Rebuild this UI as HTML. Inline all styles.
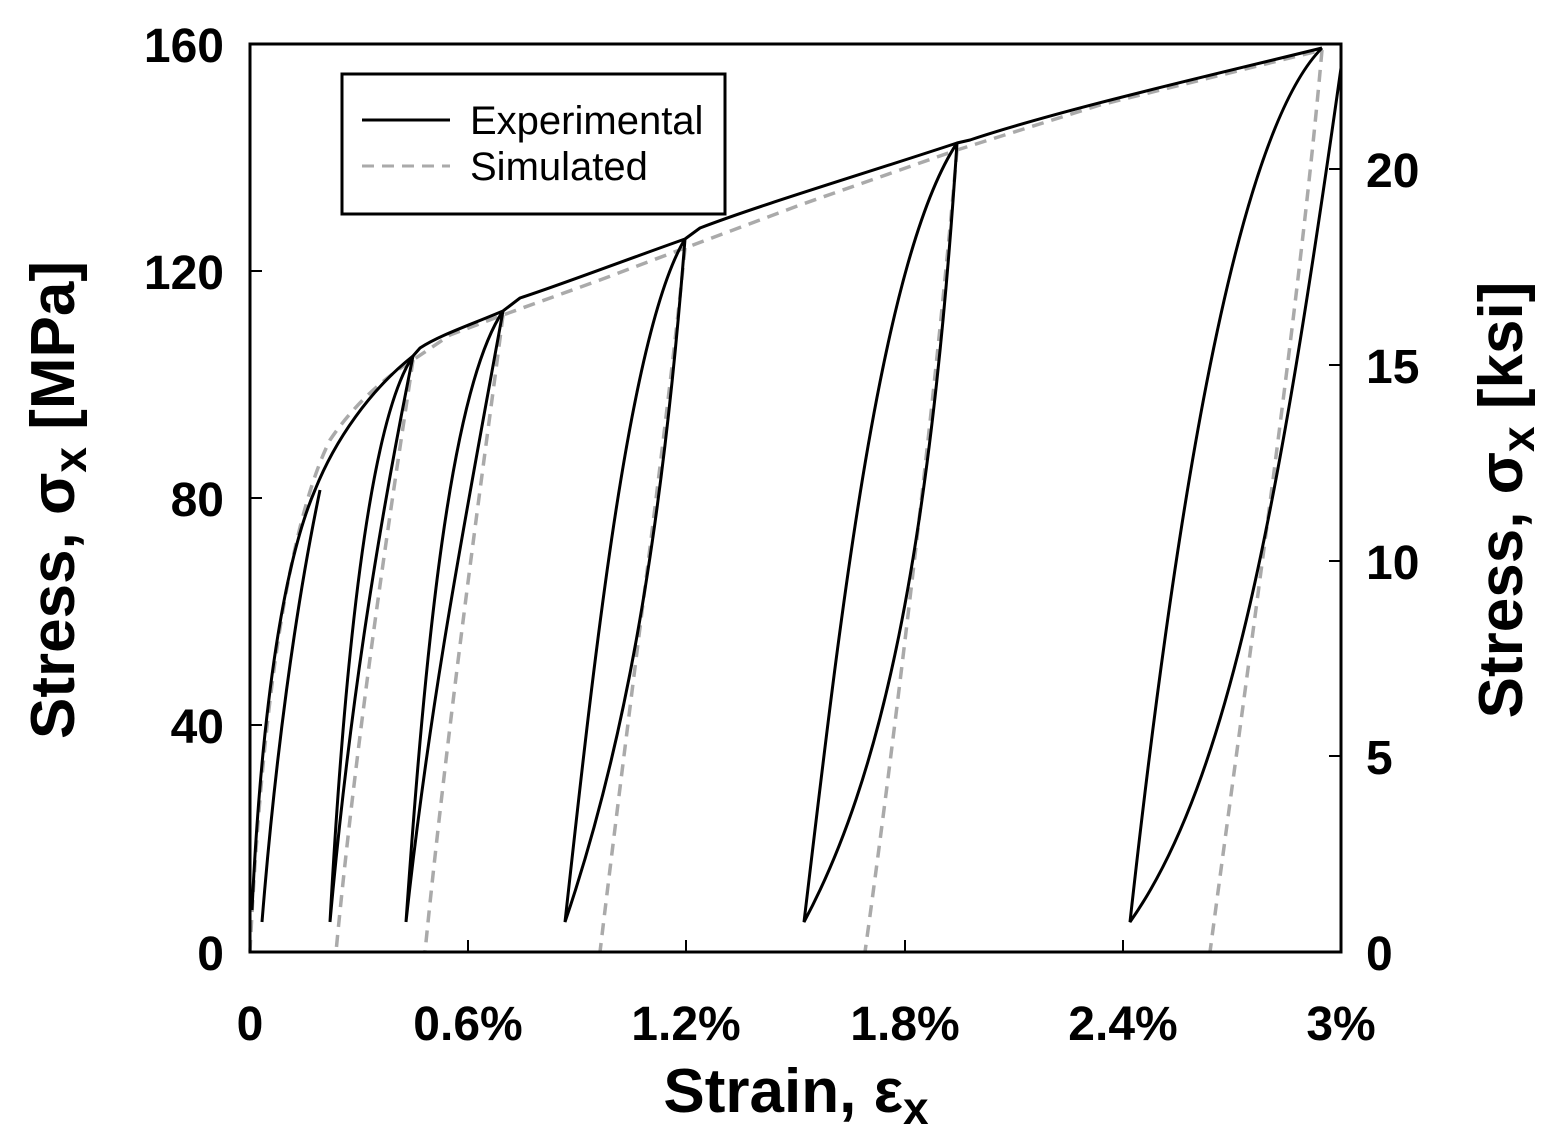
<!DOCTYPE html>
<html><head><meta charset="utf-8"><style>
html,body{margin:0;padding:0;background:#fff;}
svg{display:block;font-family:"Liberation Sans",Arial,sans-serif;font-weight:bold;}
</style></head><body>
<svg width="1548" height="1146" viewBox="0 0 1548 1146" xmlns="http://www.w3.org/2000/svg">
<rect width="1548" height="1146" fill="#fff"/>
<!-- simulated dashed -->
<g fill="none" stroke="#aaa" stroke-width="3.5" stroke-dasharray="12,8">
<path d="M250,952 C262,700 290,520 330,440 C350,410 380,380 413,360 L450,335 L503,315 L600,280 L685,248 L800,205 L957,150 L1100,105 L1322,50"/>
<path d="M413,360 C400,450 360,700 336,952"/>
<path d="M503,315 C490,420 450,700 425,952"/>
<path d="M685,248 C670,400 630,700 600,952"/>
<path d="M957,150 C940,350 900,700 865,952"/>
<path d="M1322,50 C1300,300 1250,650 1210,952"/>
</g>
<!-- experimental -->
<g fill="none" stroke="#000" stroke-width="3">
<path d="M252,910 C262,700 285,560 315,490 C335,440 370,390 413,356 L420,348 C440,335 470,325 503,311 L520,298 C560,285 620,262 685,239 L700,228 C760,205 860,175 957,143 L970,140 C1060,110 1200,78 1322,48"/>
<path d="M262,922 C275,760 295,610 320,490"/>
<path d="M413,356 C370,420 345,650 330,922 C350,700 380,520 413,356"/>
<path d="M503,311 C450,390 425,650 406,922 C430,700 465,520 503,311"/>
<path d="M685,239 C630,330 595,650 565,922 C620,760 660,560 685,239"/>
<path d="M957,143 C880,260 840,620 804,922 C880,780 930,560 957,143"/>
<path d="M1322,48 C1230,140 1170,560 1130,922 C1230,780 1280,500 1341,68"/>
</g>
<!-- axes -->
<rect x="250" y="44" width="1091" height="908" fill="none" stroke="#000" stroke-width="3"/>
<g stroke="#000" stroke-width="2">
<line x1="250" y1="271" x2="262" y2="271"/><line x1="250" y1="498" x2="262" y2="498"/><line x1="250" y1="725" x2="262" y2="725"/>
<line x1="468" y1="952" x2="468" y2="940"/><line x1="686" y1="952" x2="686" y2="940"/><line x1="905" y1="952" x2="905" y2="940"/><line x1="1123" y1="952" x2="1123" y2="940"/>
<line x1="1341" y1="169" x2="1329" y2="169"/><line x1="1341" y1="365" x2="1329" y2="365"/><line x1="1341" y1="561" x2="1329" y2="561"/><line x1="1341" y1="756" x2="1329" y2="756"/>
</g>
<g font-size="48" text-anchor="end">
<text x="224" y="62">160</text><text x="224" y="289">120</text><text x="224" y="516">80</text><text x="224" y="743">40</text><text x="224" y="970">0</text>
</g>
<g font-size="48" text-anchor="start">
<text x="1366" y="187">20</text><text x="1366" y="383">15</text><text x="1366" y="579">10</text><text x="1366" y="774">5</text><text x="1366" y="970">0</text>
</g>
<g font-size="48" text-anchor="middle">
<text x="250" y="1040">0</text><text x="468" y="1040">0.6%</text><text x="686" y="1040">1.2%</text><text x="905" y="1040">1.8%</text><text x="1123" y="1040">2.4%</text><text x="1341" y="1040">3%</text>
</g>
<text x="796" y="1112" font-size="62" text-anchor="middle">Strain, ε<tspan font-size="46" dy="12">x</tspan></text>
<text transform="translate(74,500) rotate(-90)" font-size="62" text-anchor="middle">Stress, σ<tspan font-size="46" dy="12">x</tspan><tspan dy="-12"> [MPa]</tspan></text>
<text transform="translate(1522,500) rotate(-90)" font-size="62" text-anchor="middle">Stress, σ<tspan font-size="46" dy="12">x</tspan><tspan dy="-12"> [ksi]</tspan></text>
<!-- legend -->
<rect x="342" y="74" width="383" height="140" fill="#fff" stroke="#000" stroke-width="3"/>
<line x1="362" y1="120" x2="450" y2="120" stroke="#000" stroke-width="3"/>
<line x1="362" y1="166" x2="450" y2="166" stroke="#aaa" stroke-width="3" stroke-dasharray="12,8"/>
<g font-size="40" font-weight="normal">
<text x="470" y="134">Experimental</text><text x="470" y="180">Simulated</text>
</g>
</svg>
</body></html>
